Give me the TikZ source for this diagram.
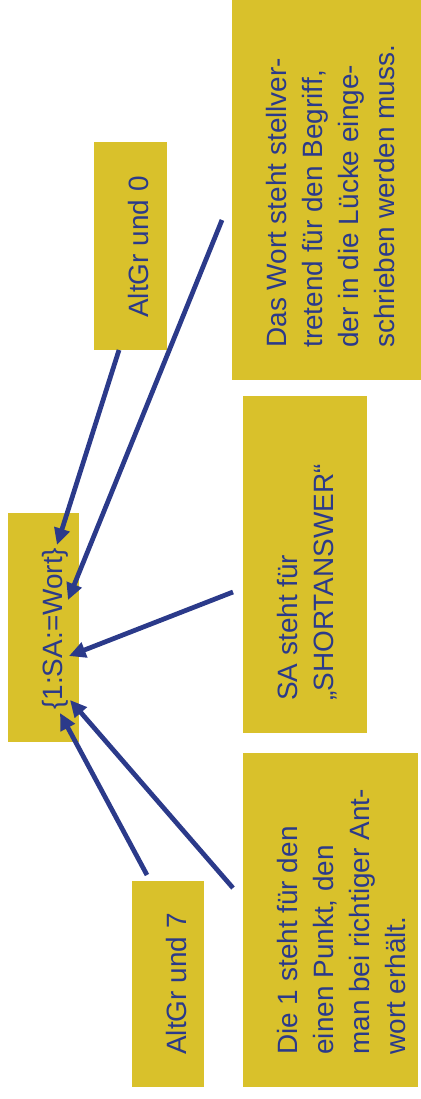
\documentclass[tikz,border=0pt]{standalone}
\usepackage{fontspec}
\setmainfont{Liberation Sans}
\usetikzlibrary{arrows.meta,calc}

\definecolor{notegold}{RGB}{217,193,43}
\definecolor{noteblue}{RGB}{43,58,138}

\begin{document}
\begin{tikzpicture}[
  x=0.02cm,
  y=-0.02cm,
  >={Triangle[length=9.5pt,width=8.8pt]},
  box/.style={fill=notegold},
  note/.style={rotate=90,anchor=north west,inner sep=0pt,align=left,
    text=noteblue,font=\fontsize{15.9}{20.4}\selectfont},
  pointer/.style={->,draw=noteblue,line width=2.7pt}
]
\useasboundingbox (0,0) rectangle (421,1099);

% Boxes, given by lower left (image) and upper right corner:
% text sits 34 right of the left edge, 32 above the bottom edge

% ------------------------------------------------------------------
% Code in the middle
% ------------------------------------------------------------------
\coordinate (termA) at (8,742);
\coordinate (termB) at (79,513);
\fill[box] (termA) rectangle (termB);
\node[note] (term) at ($(termA)+(34,-32)$) {\{1:SA:=Wort\}};

% ------------------------------------------------------------------
% Notes on the left
% ------------------------------------------------------------------
\coordinate (zeroA) at (94,350);
\coordinate (zeroB) at (167,142);
\fill[box] (zeroA) rectangle (zeroB);
\node[note] (zero) at ($(zeroA)+(34,-32)$) {AltGr und 0};

\coordinate (sevenA) at (132,1087);
\coordinate (sevenB) at (204,881);
\fill[box] (sevenA) rectangle (sevenB);
\node[note] (seven) at ($(sevenA)+(34,-32)$) {AltGr und 7};

% ------------------------------------------------------------------
% Notes on the right
% ------------------------------------------------------------------
\coordinate (wordA) at (232,380);
\coordinate (wordB) at (421,0);
\fill[box] (wordA) rectangle (wordB);
\node[note] (word) at ($(wordA)+(34,-32)$)
  {Das Wort steht stellver-\\tretend für den Begriff,\\der in die Lücke einge-\\schrieben werden muss.};

\coordinate (saA) at (243,733);
\coordinate (saB) at (367,396);
\fill[box] (saA) rectangle (saB);
\node[note] (sa) at ($(saA)+(34,-32)$)
  {SA steht für\\„SHORTANSWER“};

\coordinate (oneA) at (243,1087);
\coordinate (oneB) at (418,753);
\fill[box] (oneA) rectangle (oneB);
\node[note] (one) at ($(oneA)+(34,-32)$)
  {Die 1 steht für den\\einen Punkt, den\\man bei richtiger Ant-\\wort erhält.};

% ------------------------------------------------------------------
% Pointers onto the code
% ------------------------------------------------------------------
\coordinate (zeroS) at (119,350);
\coordinate (wordS) at (222,220);
\coordinate (saS) at (233,592);
\coordinate (oneS) at (233,888);
\coordinate (sevenS) at (147,875);

\coordinate (zeroE) at (57,545);
\coordinate (wordE) at (68,600);
\coordinate (saE) at (69,656);
\coordinate (oneE) at (70,700);
\coordinate (sevenE) at (60,713);

\draw[pointer] (zeroS) -- (zeroE);
\draw[pointer] (wordS) -- (wordE);
\draw[pointer] (saS) -- (saE);
\draw[pointer] (oneS) -- (oneE);
\draw[pointer] (sevenS) -- (sevenE);

\end{tikzpicture}
\end{document}
